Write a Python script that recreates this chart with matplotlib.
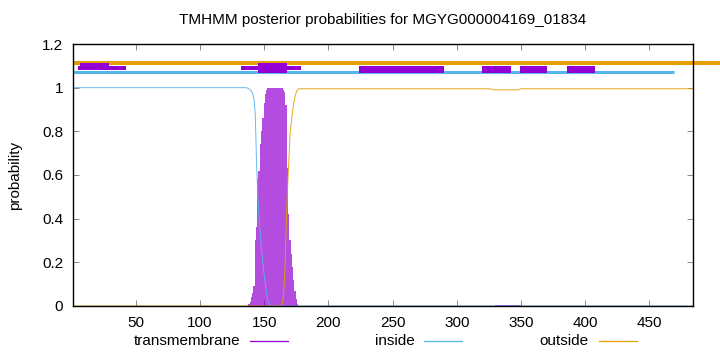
#!/usr/bin/env python3
"""TMHMM posterior probabilities plot, gnuplot look."""

import matplotlib
matplotlib.use('Agg')
import matplotlib.pyplot as plt
from matplotlib.lines import Line2D

plt.rcParams.update({
    'font.family': ['Liberation Sans', 'DejaVu Sans'],
    'font.size': 11,
})

TM_COLOR = '#9400D3'
IN_COLOR = '#56B4E9'
OUT_COLOR = '#E69F00'

SEQ_LEN = 484

# transmembrane posterior, per residue (impulses)
tm_res = list(range(138, 177))
tm_prob = [0.01, 0.02, 0.04, 0.06, 0.09, 0.30, 0.36, 0.58, 0.62, 0.74,
           0.80, 0.86, 0.93, 0.97, 0.99, 1.0, 1.0, 1.0, 1.0, 1.0,
           1.0, 1.0, 1.0, 1.0, 1.0, 1.0, 1.0, 0.99, 0.98, 0.92,
           0.63, 0.42, 0.30, 0.24, 0.18, 0.12, 0.07, 0.03, 0.01]
tm_small_res = list(range(330, 351))
tm_small_prob = [0.005] * len(tm_small_res)

# inside posterior (key points along the curve)
in_res = [1, 136, 138, 139, 140, 141, 142, 143, 144, 145, 146, 147, 148,
          149, 150, 151, 152, 153, 154, 156, 484]
in_prob = [1.0, 1.0, 0.995, 0.99, 0.985, 0.97, 0.95, 0.88, 0.65, 0.50,
           0.40, 0.32, 0.25, 0.19, 0.14, 0.09, 0.05, 0.02, 0.005, 0.0, 0.0]

# outside posterior (key points along the curve)
out_res = [1, 163, 164, 165, 166, 167, 168, 169, 170, 171, 172, 173, 174,
           175, 176, 177, 326, 329, 348, 350, 484]
out_prob = [0.0, 0.0, 0.01, 0.05, 0.15, 0.35, 0.52, 0.65, 0.78, 0.84,
            0.89, 0.93, 0.96, 0.98, 0.99, 0.995, 0.995, 0.99, 0.99,
            0.995, 0.995]

# top tracks
outside_track = (1, 505, 1.111)
inside_track = (1, 469, 1.0725)
tm_blocks_upper = [(5, 42), (132, 179)]            # sit above the inside line
tm_blocks_full = [(224, 290), (320, 342), (349, 370), (386, 408)]
tm_blocks_tall = [(6.5, 29), (145, 168)]

fig = plt.figure(figsize=(7.2, 3.52), dpi=100)
ax = fig.add_axes([0.1014, 0.1307, 0.8611, 0.7443])

ax.bar(tm_res, tm_prob, width=1.0, color=TM_COLOR, alpha=0.7, linewidth=0, zorder=2)
ax.bar(tm_small_res, tm_small_prob, width=1.0, color=TM_COLOR, alpha=0.7, linewidth=0, zorder=2)
ax.plot(in_res, in_prob, color=IN_COLOR, lw=0.7, alpha=0.9, zorder=3)
ax.plot(out_res, out_prob, color=OUT_COLOR, lw=0.7, alpha=0.9, zorder=3)

ax.hlines(outside_track[2], outside_track[0], outside_track[1], color=OUT_COLOR,
          lw=2.9, clip_on=False, zorder=4)
ax.hlines(inside_track[2], inside_track[0], inside_track[1], color=IN_COLOR,
          lw=2.2, zorder=4)
for x0, x1 in tm_blocks_upper:
    ax.fill_between([x0, x1], 1.0794, 1.101, color=TM_COLOR, lw=0, zorder=5)
for x0, x1 in tm_blocks_full:
    ax.fill_between([x0, x1], 1.0674, 1.101, color=TM_COLOR, lw=0, zorder=5)
for x0, x1 in tm_blocks_tall:
    ax.fill_between([x0, x1], 1.094, 1.1147, color=TM_COLOR, lw=0, zorder=5)
ax.fill_between([145, 168], 1.0674, 1.1147, color=TM_COLOR, lw=0, zorder=5)

ax.set_xlim(1, SEQ_LEN)
ax.set_ylim(0, 1.2)
ax.set_xticks([50, 100, 150, 200, 250, 300, 350, 400, 450])
ax.set_yticks([0, 0.2, 0.4, 0.6, 0.8, 1.0, 1.2])
ax.set_yticklabels(['0', '0.2', '0.4', '0.6', '0.8', '1', '1.2'])
ax.tick_params(direction='in', length=4, width=0.6, top=True, right=True,
               pad=7, labelsize=11, color='#777777')
for sp in ax.spines.values():
    sp.set_linewidth(1.0)
    sp.set_zorder(6)

fig.text(0.532, 0.943, 'TMHMM posterior probabilities for MGYG000004169_01834',
         ha='center', va='center', fontsize=11)
fig.text(0.021, 0.503, 'probability', rotation=90, ha='center', va='center', fontsize=11)

# legend, gnuplot style: label then line sample
legend_items = [('transmembrane', TM_COLOR), ('inside', IN_COLOR), ('outside', OUT_COLOR)]
ly = 1 - 341 / 352
for i, (label, col) in enumerate(legend_items):
    xr = (240 + i * 174.5) / 720
    fig.text(xr, ly, label, ha='right', va='center', fontsize=11)
    fig.add_artist(Line2D([xr + 10 / 720, xr + 48 / 720], [ly, ly], color=col, lw=0.9))

fig.savefig('out.png', dpi=100, facecolor='white')
